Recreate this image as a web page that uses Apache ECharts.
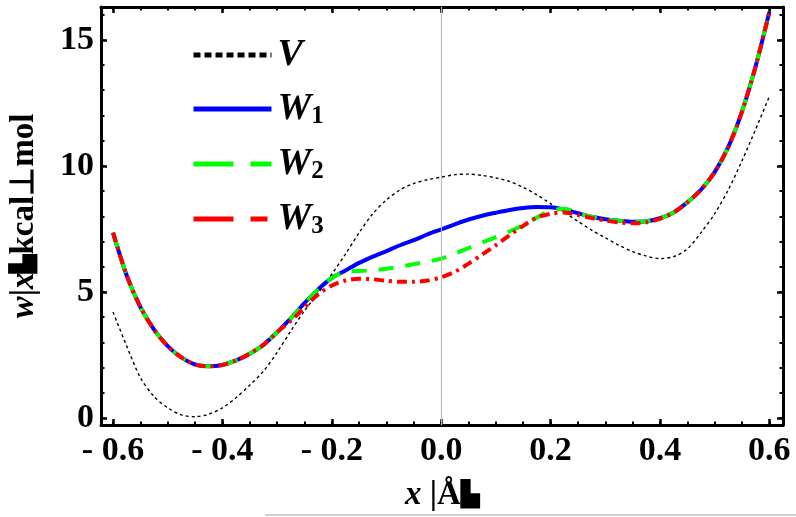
<!DOCTYPE html>
<html>
<head>
<meta charset="utf-8">
<script src="https://cdn.jsdelivr.net/npm/echarts@6/dist/echarts.min.js"></script>
<style>
html,body{margin:0;padding:0;background:#fff;}
#chart{width:796px;height:517px;}
</style>
</head>
<body>
<div id="chart"></div>
<script>
// ---- data ----
const xs = [-0.6,-0.575,-0.55,-0.525,-0.5,-0.475,-0.45,-0.425,-0.4,-0.375,-0.35,-0.325,-0.3,-0.275,-0.25,-0.225,-0.2,-0.175,-0.15,-0.125,-0.1,-0.075,-0.05,-0.025,0,0.025,0.05,0.075,0.1,0.125,0.15,0.175,0.2,0.225,0.25,0.275,0.3,0.325,0.35,0.375,0.4,0.425,0.45,0.475,0.5,0.525,0.55,0.575,0.6];
const V  = [4.2,2.85,1.6,0.85,0.4,0.12,0.05,0.15,0.4,0.8,1.3,1.85,2.6,3.45,4.25,4.95,5.7,6.5,7.35,8.1,8.65,9.05,9.3,9.45,9.55,9.65,9.67,9.62,9.52,9.38,9.15,8.85,8.5,8.15,7.8,7.45,7.15,6.85,6.6,6.42,6.32,6.4,6.7,7.35,8.1,9.05,10.2,11.45,12.75];
const W1 = [7.35,5.65,4.4,3.5,2.85,2.4,2.12,2.05,2.1,2.28,2.55,2.9,3.4,3.95,4.55,5.1,5.55,5.85,6.15,6.4,6.62,6.85,7.05,7.28,7.48,7.68,7.87,8.02,8.14,8.25,8.33,8.37,8.36,8.27,8.12,7.98,7.88,7.82,7.78,7.8,7.92,8.15,8.55,9.05,9.75,10.75,12.15,13.95,16.1];
const W2 = [7.35,5.65,4.4,3.5,2.85,2.4,2.12,2.05,2.1,2.28,2.55,2.9,3.4,3.95,4.55,5.1,5.55,5.8,5.83,5.86,5.92,6.0,6.1,6.2,6.32,6.52,6.74,6.96,7.17,7.4,7.65,7.95,8.22,8.3,8.12,7.98,7.88,7.82,7.78,7.8,7.92,8.15,8.55,9.05,9.75,10.75,12.15,13.95,16.1];
const W3 = [7.35,5.65,4.4,3.5,2.85,2.4,2.12,2.05,2.1,2.28,2.55,2.9,3.4,3.85,4.38,4.9,5.25,5.45,5.52,5.5,5.44,5.4,5.4,5.45,5.58,5.8,6.12,6.48,6.85,7.25,7.62,7.95,8.1,8.15,8.05,7.93,7.83,7.76,7.72,7.76,7.9,8.15,8.55,9.05,9.75,10.75,12.15,13.95,16.1];

const xMajor = [-0.6,-0.4,-0.2,0,0.2,0.4,0.6];
const xMinor = [-0.6,-0.55,-0.5,-0.45,-0.4,-0.35,-0.3,-0.25,-0.2,-0.15,-0.1,-0.05,0,0.05,0.1,0.15,0.2,0.25,0.3,0.35,0.4,0.45,0.5,0.55,0.6];
const yMajor = [0,5,10,15];
const yMinor = [0,1,2,3,4,5,6,7,8,9,10,11,12,13,14,15,16];
const XMIN = -0.622, XMAX = 0.625, YMIN = -0.28, YMAX = 16.3;

const seriesNames = ['V','W1','W2','W3'];

const chart = echarts.init(document.getElementById('chart'), null, {renderer:'canvas'});
const FONT = 'Liberation Serif';
const pairs = arr => xs.map((x,i)=>[x, arr[i]]);
const nameRich = {
  it:{fontFamily:FONT, fontStyle:'italic', fontWeight:'bold', fontSize:33, color:'#000'},
  n:{fontFamily:FONT, fontWeight:'bold', fontSize:33, color:'#000'},
  b:{fontFamily:FONT, fontWeight:'bold', fontSize:24, color:'#000'}
};

function xAxisDef(pos, ticks, len, width, labels){
  return {
    type:'value', min:XMIN, max:XMAX, position:pos, gridIndex:0,
    axisLine:{show:labels, onZero:false, lineStyle:{color:'#000', width:3}},
    axisTick:{show:true, inside:true, length:len, customValues:ticks, lineStyle:{color:'#000', width:width}},
    axisLabel:{show:labels && pos==='bottom', customValues:xMajor, color:'#000', fontFamily:FONT, fontWeight:'bold', fontSize:34, margin:9,
      formatter:v=>{ const a=Math.abs(v).toFixed(1); return v<-1e-9 ? '- '+a : a; }},
    splitLine:{show:false},
    name: (labels && pos==='bottom') ? '{it|x}{n| |Å}{b|▙}' : '',
    nameLocation:'middle', nameGap:54,
    nameTextStyle:{rich:nameRich}
  };
}
function yAxisDef(pos, ticks, len, width, labels){
  return {
    type:'value', min:YMIN, max:YMAX, position:pos, gridIndex:0,
    axisLine:{show:labels, onZero:false, lineStyle:{color:'#000', width:3}},
    axisTick:{show:true, inside:true, length:len, customValues:ticks, lineStyle:{color:'#000', width:width}},
    axisLabel:{show:labels && pos==='left', customValues:yMajor, color:'#000', fontFamily:FONT, fontWeight:'bold', fontSize:34, margin:7},
    splitLine:{show:false},
    name: (labels && pos==='left') ? '{it|w}{n||}{it|x}{b|▙}{n|kcal⊥mol}' : '',
    nameLocation:'middle', nameGap:60, nameRotate:90,
    nameTextStyle:{rich:nameRich}
  };
}

const option = {
  animation:false,
  backgroundColor:'#fff',
  grid:{left:97, right:13, top:7, bottom:90, containLabel:false},
  xAxis:[
    xAxisDef('bottom', xMajor, 6, 2.5, true),
    xAxisDef('bottom', xMinor, 3.5, 2, false),
    xAxisDef('top', xMajor, 6, 2.5, true),
    xAxisDef('top', xMinor, 3.5, 2, false)
  ],
  yAxis:[
    yAxisDef('left', yMajor, 6, 2.5, true),
    yAxisDef('left', yMinor, 3.5, 2, false),
    yAxisDef('right', yMajor, 6, 2.5, true),
    yAxisDef('right', yMinor, 3.5, 2, false)
  ],
  legend:{
    orient:'vertical', left:186, top:31, itemWidth:78, itemHeight:14, itemGap:16,
    itemStyle:{opacity:0},
    data:[
      {name:'V', lineStyle:{color:'#000', width:5, type:[7,4]}, itemStyle:{opacity:0}},
      {name:'W1', lineStyle:{color:'#0000ff', width:5, type:'solid'}, itemStyle:{opacity:0}},
      {name:'W2', lineStyle:{color:'#00ff00', width:5, type:[40,17]}, itemStyle:{opacity:0}},
      {name:'W3', lineStyle:{color:'#ff0000', width:5, type:[40,17,17,17]}, itemStyle:{opacity:0}}
    ],
    formatter:n=> n==='V' ? '{v|V}' : '{i|W}{s|'+n.slice(1)+'}',
    textStyle:{padding:[0,0,0,1], rich:{
      v:{fontFamily:FONT, fontStyle:'italic', fontWeight:'bold', fontSize:38, color:'#000', lineHeight:20},
      i:{fontFamily:FONT, fontStyle:'italic', fontWeight:'bold', fontSize:38, color:'#000', lineHeight:40},
      s:{fontFamily:FONT, fontWeight:'bold', fontSize:25, color:'#000', lineHeight:40, verticalAlign:'bottom'}
    }}
  },
  graphic:[{type:'line', shape:{x1:265, y1:515, x2:796, y2:515}, style:{stroke:'#cfcfcf', lineWidth:2}, silent:true}],
  series:[
    {name:'V', type:'line', xAxisIndex:0, yAxisIndex:0, data:pairs(V), smooth:0.3, symbol:'none', showSymbol:false,
     lineStyle:{color:'#000', width:1.4, type:[3,3]}, itemStyle:{color:'#000'},
     markLine:{silent:true, symbol:'none', label:{show:false}, lineStyle:{color:'#bdbdbd', width:1.2, type:'solid'}, data:[{xAxis:0}]}},
    {name:'W1', type:'line', xAxisIndex:0, yAxisIndex:0, data:pairs(W1), smooth:0.3, symbol:'none', showSymbol:false,
     lineStyle:{color:'#0000ff', width:4}, itemStyle:{color:'#0000ff'}},
    {name:'W2', type:'line', xAxisIndex:0, yAxisIndex:0, data:pairs(W2), smooth:0.3, symbol:'none', showSymbol:false,
     lineStyle:{color:'#00ff00', width:4, type:[15,12]}, itemStyle:{color:'#00ff00'}},
    {name:'W3', type:'line', xAxisIndex:0, yAxisIndex:0, data:pairs(W3), smooth:0.3, symbol:'none', showSymbol:false,
     lineStyle:{color:'#ff0000', width:4, type:[10,5,3,5]}, itemStyle:{color:'#ff0000'}}
  ]
};
chart.setOption(option);
</script>
</body>
</html>
